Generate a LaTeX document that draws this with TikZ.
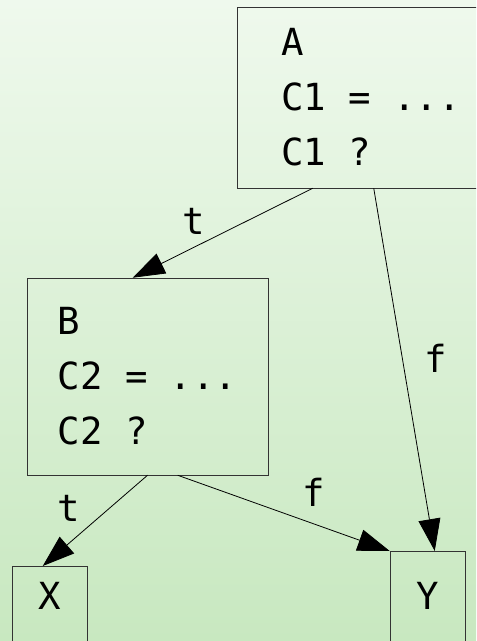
\documentclass[tikz,border=0pt]{standalone}
\usepackage{fontspec}
\setmonofont{DejaVu Sans Mono}
\usetikzlibrary{arrows.meta, calc}

\begin{document}
\begin{tikzpicture}[
      x=0.75pt, y=-0.75pt,
      block/.style={rectangle, draw=black!80, align=left, inner sep=0pt, font=\ttfamily\fontsize{28}{41.25}\selectfont},
      leaf/.style={rectangle, draw=black!80, anchor=north, inner sep=0pt, minimum width=56.25pt, text depth=100pt, font=\ttfamily\fontsize{28}{41.25}\selectfont},
      lbl/.style={font=\ttfamily\fontsize{28}{34}\selectfont, inner sep=9pt},
      arrow/.style={line width=0.6pt, -{Triangle[length=24pt, width=16.5pt]}}
    ]

    % Fondo
    \shade[top color={rgb,255:red,239;green,249;blue,237}, bottom color={rgb,255:red,200;green,232;blue,192}] (0,0) rectangle (476,641);
    \useasboundingbox (0,0) rectangle (476,641);
    \clip (0,0) rectangle (476,641);

    % Nodos
    \node (A) [block, minimum width=201pt, minimum height=135.75pt] at (371,97.5) {A\\C1 = ...\\C1 ?};
    \node (B) [block, minimum width=180.75pt, minimum height=147.75pt] at (147.5,376.5) {B\\C2 = ...\\C2 ?};
    \node (X) [leaf, text height=32.25pt] at (49.5,566) {X};
    \node (Y) [leaf, text height=43.5pt] at (427.5,551) {Y};

    % Conexiones
    \draw [arrow] ($(A.south west)+(76,0)$) -- node[lbl, pos=0.66, anchor=south] {t} ($(B.north west)+(106,0)$);
    \draw [arrow] ($(A.south west)+(137,0)$) -- node[lbl, pos=0.47, anchor=west, xshift=7pt] {f} ($(Y.north west)+(45,0)$);
    \draw [arrow] (B.south) -- node[lbl, pos=0.37, anchor=east, xshift=-12pt] {t} ($(X.north west)+(31,0)$);
    \draw [arrow] ($(B.south west)+(151,0)$) -- node[lbl, pos=0.64, anchor=south, yshift=4pt] {f} (Y.north west);

  \end{tikzpicture}
\end{document}
